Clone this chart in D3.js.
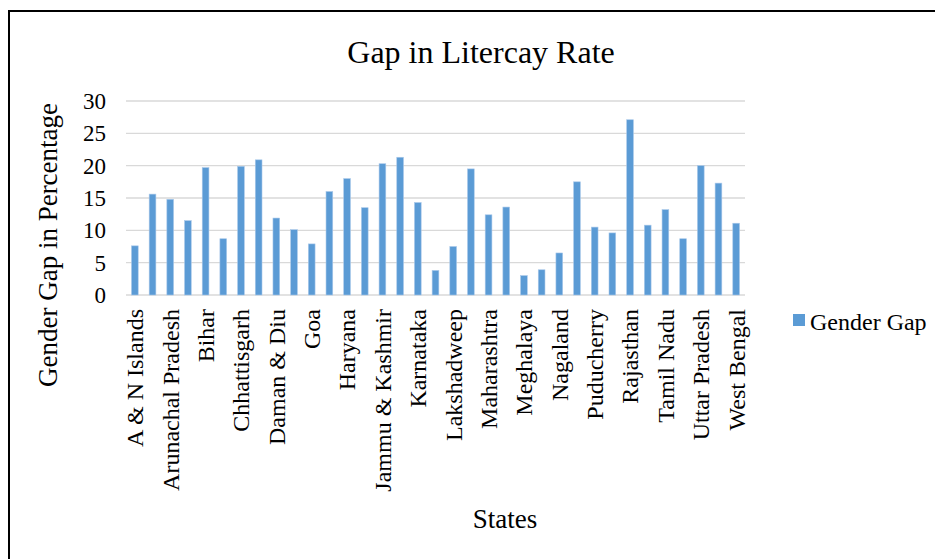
<!DOCTYPE html>
<html>
<head>
    <meta charset="utf-8">
    <title>Gap in Litercay Rate</title>
    <style>
        body { margin: 0; background: #fff; }
        text { font-family: "Liberation Serif", "Times New Roman", serif; fill: #000; }
    </style>
</head>
<body>
<main></main>
<script src="https://cdn.jsdelivr.net/npm/d3@7/dist/d3.min.js"></script>
<script>
    // 数据
    var states = ["A & N Islands", "Andhra Pradesh", "Arunachal Pradesh", "Assam", "Bihar",
        "Chandigarh", "Chhattisgarh", "Dadra & Nagar Haveli", "Daman & Diu", "Delhi",
        "Goa", "Gujarat", "Haryana", "Himachal Pradesh", "Jammu & Kashmir",
        "Jharkhand", "Karnataka", "Kerala", "Lakshadweep", "Madhya Pradesh",
        "Maharashtra", "Manipur", "Meghalaya", "Mizoram", "Nagaland",
        "Odisha", "Puducherry", "Punjab", "Rajasthan", "Sikkim",
        "Tamil Nadu", "Tripura", "Uttar Pradesh", "Uttarakhand", "West Bengal"];
    var gap = [7.6, 15.6, 14.8, 11.5, 19.7,
        8.7, 19.9, 20.9, 11.9, 10.1,
        7.9, 16.0, 18.0, 13.5, 20.3,
        21.3, 14.3, 3.8, 7.5, 19.5,
        12.4, 13.6, 3.0, 3.9, 6.5,
        17.5, 10.5, 9.6, 27.1, 10.8,
        13.2, 8.7, 20.0, 17.3, 11.1];
    var yTicks = [0, 5, 10, 15, 20, 25, 30];

    var width = 935, height = 559;
    var svg = d3.select("main").append("svg")
        .attr("width", width).attr("height", height);

    // 外框
    svg.append("rect")
        .attr("x", 9).attr("y", 11)
        .attr("width", 940).attr("height", 560)
        .attr("fill", "none").attr("stroke", "#000").attr("stroke-width", 2);

    var plotL = 126, plotR = 745, plotT = 101, plotB = 295;

    var x = d3.scaleBand().domain(states).range([plotL, plotR]).paddingInner(0.62).paddingOuter(0.31);
    var y = d3.scaleLinear().domain([0, 30]).range([plotB, plotT]);

    // 网格线
    svg.append("g").selectAll("line").data(yTicks).enter().append("line")
        .attr("x1", plotL).attr("x2", plotR)
        .attr("y1", function (d) { return y(d); }).attr("y2", function (d) { return y(d); })
        .attr("stroke", "#d9d9d9").attr("stroke-width", 1.3);

    // y轴刻度
    svg.append("g").selectAll("text").data(yTicks).enter().append("text")
        .attr("x", 106).attr("y", function (d) { return y(d); })
        .attr("dy", "0.35em")
        .attr("text-anchor", "end")
        .style("font-size", "23px")
        .text(function (d) { return d; });

    // 柱子
    svg.append("g").selectAll("rect").data(gap).enter().append("rect")
        .attr("x", function (d, i) { return x(states[i]); })
        .attr("y", function (d) { return y(d); })
        .attr("width", x.bandwidth())
        .attr("height", function (d) { return plotB - y(d); })
        .attr("fill", "#5b9bd5")
        .attr("stroke", "#a9c8ea").attr("stroke-width", 0.6);

    // x轴标签，隔一个显示
    svg.append("g").selectAll("text")
        .data(states.filter(function (d, i) { return i % 2 === 0; }))
        .enter().append("text")
        .attr("transform", function (d) {
            return "translate(" + (x(d) + x.bandwidth() / 2) + "," + 309 + ") rotate(-90)";
        })
        .attr("dy", "0.35em")
        .attr("text-anchor", "end")
        .style("font-size", "24px")
        .text(function (d) { return d; });

    // 标题
    svg.append("text")
        .attr("x", 481).attr("y", 63)
        .attr("text-anchor", "middle")
        .style("font-size", "32px")
        .text("Gap in Litercay Rate");

    // 轴标题
    svg.append("text")
        .attr("transform", "translate(57,245) rotate(-90)")
        .attr("text-anchor", "middle")
        .style("font-size", "27px")
        .text("Gender Gap in Percentage");

    svg.append("text")
        .attr("x", 505).attr("y", 528)
        .attr("text-anchor", "middle")
        .style("font-size", "27px")
        .text("States");

    // 图例
    svg.append("rect")
        .attr("x", 793).attr("y", 314)
        .attr("width", 12).attr("height", 12)
        .attr("fill", "#5b9bd5");
    svg.append("text")
        .attr("x", 810).attr("y", 330)
        .style("font-size", "24px")
        .text("Gender Gap");
</script>
</body>
</html>
